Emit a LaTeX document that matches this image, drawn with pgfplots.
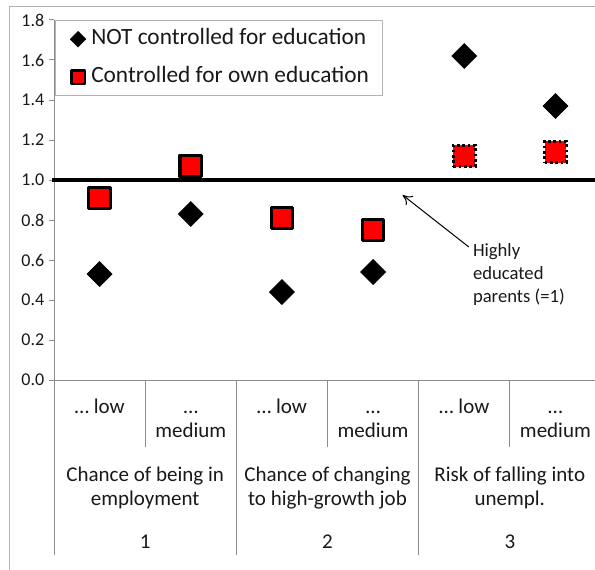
\documentclass[border=0pt]{standalone}
\usepackage{fontspec}
\setmainfont{Carlito}
\usepackage{pgfplots}
\pgfplotsset{compat=1.18}
\usetikzlibrary{arrows.meta}

\pgfplotstableread{
x y
0 0.53
1 0.83
2 0.44
3 0.54
4 1.62
5 1.37
}\notcontrolled
\pgfplotstableread{
x y
0 0.91
1 1.07
2 0.81
3 0.75
}\controlledsolid
\pgfplotstableread{
x y
4 1.12
5 1.14
}\controlleddotted

\begin{document}
\begin{tikzpicture}
% 1 px of the reference = 0.75pt; origin at the top-left corner
\useasboundingbox (0,0) rectangle (446.25pt,-427.5pt);
\draw[black!30, line width=0.75pt] (6.75pt,-440pt) -- (6.75pt,-5.25pt) -- (460pt,-5.25pt);
\begin{axis}[
  at={(40.5pt,-285pt)}, anchor=south west,
  scale only axis, width=410.25pt, height=270pt,
  xmin=-0.5, xmax=5.5, ymin=0, ymax=1.8,
  axis x line=bottom, axis y line=left,
  axis line style={-, black!45, line width=0.75pt},
  xtick=\empty,
  ytick={0,0.2,0.4,0.6,0.8,1,1.2,1.4,1.6,1.8},
  yticklabel style={font=\fontsize{13.5}{15}\selectfont, text=black!90,
    /pgf/number format/.cd, fixed, fixed zerofill, precision=1, assume math mode=true},
  tick align=outside, major tick length=3.75pt,
  tick style={black!45, line width=0.75pt},
  clip=false,
  legend cell align=left,
  legend image code/.code={\path (0pt,0pt) (12pt,0pt); \draw[#1] plot coordinates {(6pt,0pt)};},
  legend style={at={(rel axis cs:0.002,1)}, anchor=north west,
    draw=black!30, line width=0.75pt, fill=white,
    inner xsep=10.5pt, inner ysep=6pt, row sep=12.5pt, column sep=3.5pt,
    font=\fontsize{17.5}{21}\selectfont,
    nodes={inner sep=0pt, text height=12pt, text depth=4pt, text=black!90}},
]
% separators of the category labels
\draw[black!45, line width=0.75pt] (axis cs:-0.5,0) -- (axis cs:-0.5,-0.875);
\draw[black!45, line width=0.75pt] (axis cs:1.5,0) -- (axis cs:1.5,-0.875);
\draw[black!45, line width=0.75pt] (axis cs:3.5,0) -- (axis cs:3.5,-0.875);
\draw[black!45, line width=0.75pt] (axis cs:0.5,0) -- (axis cs:0.5,-0.335);
\draw[black!45, line width=0.75pt] (axis cs:2.5,0) -- (axis cs:2.5,-0.335);
\draw[black!45, line width=0.75pt] (axis cs:4.5,0) -- (axis cs:4.5,-0.335);

% reference line (highly educated parents = 1)
\addplot[black, line width=2.8pt, forget plot] coordinates {(-0.52,1) (5.5,1)};

\addplot[only marks, mark=square*, mark size=6.6pt,
  mark options={rotate=45, fill=black, draw=black, line width=0.5pt},
  legend image post style={mark size=4.1pt}]
  table[x=x, y=y] {\notcontrolled};
\addlegendentry{NOT controlled for education}

\addplot[only marks, mark=square*, mark size=8.1pt,
  mark options={fill=red, draw=black, line width=2.4pt, line join=round},
  legend image post style={mark size=5pt, mark options={fill=red, draw=black, line width=1.8pt, line join=round}}]
  table[x=x, y=y] {\controlledsolid};
\addlegendentry{Controlled for own education}

\addplot[only marks, mark=square*, mark size=8.1pt, forget plot,
  mark options={fill=red, draw=black, line width=2.2pt, dash pattern=on 2pt off 2pt}]
  table[x=x, y=y] {\controlleddotted};

% annotation
\draw[black, line width=0.75pt, -{To[length=7pt, width=9pt]}] (axis cs:4.05,0.665) -- (axis cs:3.324,0.925);
\node[anchor=north west, align=left, font=\fontsize{14}{17.25}\selectfont, text=black!90, inner sep=0pt]
  at (axis cs:4.093,0.683) {Highly\\educated\\parents (=1)};

% category labels
\pgfplotsinvokeforeach{0,2,4}{
  \node[anchor=base, font=\fontsize{15.75}{18}\selectfont, text=black!90] at (axis cs:#1,-0.165) {… low};
}
\pgfplotsinvokeforeach{1,3,5}{
  \node[anchor=base, font=\fontsize{15.75}{18}\selectfont, text=black!90] at (axis cs:#1,-0.165) {…};
  \node[anchor=base, font=\fontsize{15.75}{18}\selectfont, text=black!90] at (axis cs:#1,-0.285) {medium};
}
\node[anchor=base, font=\fontsize{15.75}{18}\selectfont, text=black!90] at (axis cs:0.5,-0.505) {Chance of being in};
\node[anchor=base, font=\fontsize{15.75}{18}\selectfont, text=black!90] at (axis cs:0.5,-0.625) {employment};
\node[anchor=base, font=\fontsize{15.75}{18}\selectfont, text=black!90] at (axis cs:2.5,-0.505) {Chance of changing};
\node[anchor=base, font=\fontsize{15.75}{18}\selectfont, text=black!90] at (axis cs:2.5,-0.625) {to high-growth job};
\node[anchor=base, font=\fontsize{15.75}{18}\selectfont, text=black!90] at (axis cs:4.5,-0.505) {Risk of falling into};
\node[anchor=base, font=\fontsize{15.75}{18}\selectfont, text=black!90] at (axis cs:4.5,-0.625) {unempl.};
\node[anchor=base, font=\fontsize{15.75}{18}\selectfont, text=black!90] at (axis cs:0.5,-0.84) {1};
\node[anchor=base, font=\fontsize{15.75}{18}\selectfont, text=black!90] at (axis cs:2.5,-0.84) {2};
\node[anchor=base, font=\fontsize{15.75}{18}\selectfont, text=black!90] at (axis cs:4.5,-0.84) {3};
\end{axis}
\end{tikzpicture}
\end{document}
